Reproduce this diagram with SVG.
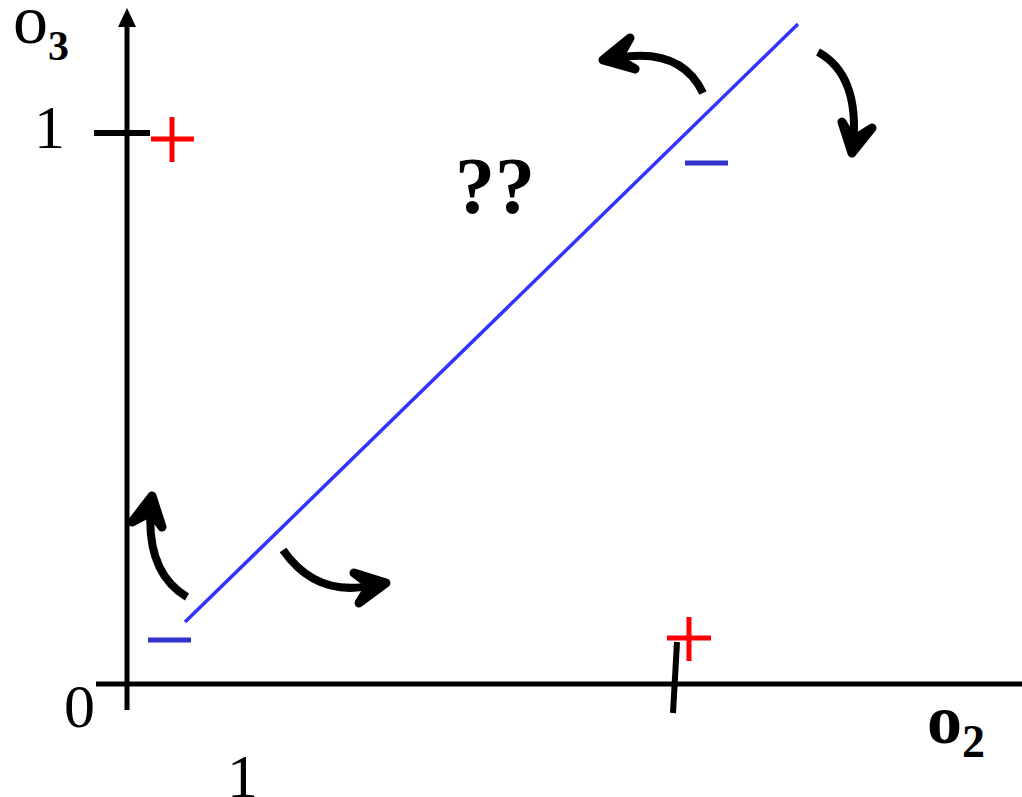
<svg xmlns="http://www.w3.org/2000/svg" width="1022" height="797" viewBox="0 0 1022 797">
<style>
.ax{stroke:#000;stroke-width:5;fill:none}
.tick{stroke:#000;stroke-width:6;fill:none}
.plus{stroke:#ff0000;stroke-width:5;fill:none}
.minus{stroke:#3333cc;stroke-width:5;fill:none}
.arr{stroke:#000;stroke-width:9;fill:#000;stroke-linecap:round;stroke-linejoin:round}
.shaft{stroke:#000;stroke-width:8;fill:none;stroke-linecap:butt}
.t{font-family:"Liberation Serif","Times New Roman",serif;fill:#000}
</style>
<rect width="1022" height="797" fill="#fff"/>
<g id="axes">
<line class="ax" x1="127" y1="710" x2="127" y2="24"/>
<polygon points="127,8 118,27 136,27" fill="#000"/>
<line class="ax" x1="96" y1="684" x2="1022" y2="684"/>
<line class="tick" x1="94" y1="133" x2="150" y2="133"/>
<line class="tick" x1="677" y1="642" x2="673" y2="713"/>
</g>
<g id="labels">
<text class="t" x="13" y="43" font-size="70">o<tspan font-size="42" font-weight="bold" y="60">3</tspan></text>
<text class="t" x="927" y="743" font-size="70" font-weight="bold">o<tspan font-size="46" y="757">2</tspan></text>
<text class="t" x="34" y="148" font-size="62">1</text>
<text class="t" x="64" y="727" font-size="62">0</text>
<text class="t" x="227" y="797" font-size="62">1</text>
<text class="t" x="455" y="213" font-size="80" font-weight="bold">??</text>
</g>
<g id="boundary">
<line x1="185" y1="622" x2="798" y2="24" stroke="#3333ff" stroke-width="3.5"/>
</g>
<g id="signs">
<path class="plus" d="M151,139H194M172,117V162"/>
<path class="plus" d="M667,638H711M689,617V661"/>
<path class="minus" d="M148,640H191"/>
<path class="minus" d="M685,163H728"/>
</g>
<g id="connectors">
<path class="shaft" d="M703,93 Q680,45 612,59"/>
<path class="arr" d="M630,38 L603,60 L635,69 L618,59 Z"/>
<path class="shaft" d="M818,52 Q860,75 853,146"/>
<path class="arr" d="M842,122 L852,153 L872,128 L853,140 Z"/>
<path class="shaft" d="M187,597 Q145,572 151,504"/>
<path class="arr" d="M132,522 L152,496 L162,527 L151,512 Z"/>
<path class="shaft" d="M283,550 Q318,600 378,584"/>
<path class="arr" d="M354,573 L386,583 L359,603 L370,585 Z"/>
</g>
</svg>
